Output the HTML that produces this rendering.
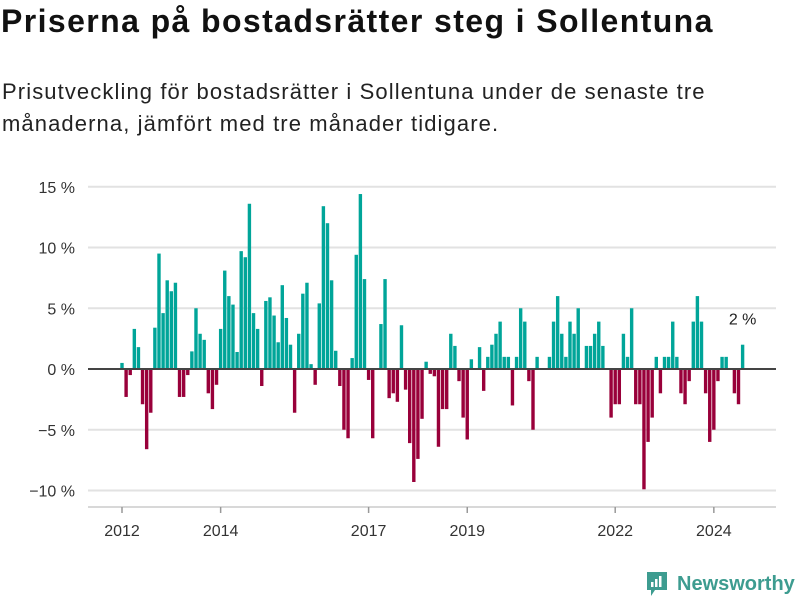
<!DOCTYPE html>
<html><head><meta charset="utf-8">
<style>
body{margin:0;background:#fff;width:800px;height:600px;overflow:hidden;font-family:"Liberation Sans",sans-serif;}
#title{position:absolute;left:1px;top:3px;font-size:32px;font-weight:bold;color:#111;margin:0;letter-spacing:1.4px;white-space:nowrap;}
#sub{position:absolute;left:2px;top:76px;font-size:22px;color:#222;line-height:32px;width:798px;letter-spacing:1.1px;white-space:nowrap;}
svg{position:absolute;left:0;top:0;}
</style></head><body>
<h1 id="title">Priserna på bostadsrätter steg i Sollentuna</h1>
<div id="sub">Prisutveckling för bostadsrätter i Sollentuna under de senaste tre<br>månaderna, jämfört med tre månader tidigare.</div>
<svg id="chart" width="800" height="600"></svg>
<script>
const values = [0.5,-2.3,-0.5,3.3,1.8,-2.9,-6.6,-3.6,3.4,9.5,4.6,7.3,6.4,7.1,-2.3,-2.3,-0.5,1.45,5.0,2.9,2.4,-2.0,-3.3,-1.3,
3.3,8.1,6.0,5.3,1.4,9.7,9.2,13.6,4.6,3.3,-1.4,5.6,5.9,4.4,2.2,6.9,4.2,2.0,-3.6,2.9,6.2,7.1,0.4,-1.3,
5.4,13.4,12.0,7.3,1.5,-1.4,-5.0,-5.7,0.9,9.4,14.4,7.4,-0.9,-5.7,0,3.7,7.4,-2.4,-2.0,-2.7,3.6,-1.7,-6.1,-9.3,
-7.4,-4.1,0.6,-0.4,-0.6,-6.4,-3.3,-3.3,2.9,1.9,-1.0,-4.0,-5.8,0.8,0,1.8,-1.8,1.0,2.0,2.9,3.9,1.0,1.0,-3.0,
1.0,5.0,3.9,-1.0,-5.0,1.0,0,0,1.0,3.9,6.0,2.9,1.0,3.9,2.9,5.0,0,1.9,1.9,2.9,3.9,1.9,0,-4.0,
-2.9,-2.9,2.9,1.0,5.0,-2.9,-2.9,-9.9,-6.0,-4.0,1.0,-2.0,1.0,1.0,3.9,1.0,-2.0,-2.9,-1.0,3.9,6.0,3.9,-2.0,-6.0,
-5.0,-1.0,1.0,1.0,0,-2.0,-2.9,2.0];
const yTicks = [15,10,5,0,-5,-10];
const yTickLabels = ["15 %","10 %","5 %","0 %","−5 %","−10 %"];
const xTickIndex = [0,24,60,84,120,144];
const xTickLabels = ["2012","2014","2017","2019","2022","2024"];
const lastLabel = "2 %";

const NS="http://www.w3.org/2000/svg";
const svg=document.getElementById('chart');
function y(v){return 369-v*12.15;}
function x(i){return 122+i*4.11;}
function mk(t,a,txt){const e=document.createElementNS(NS,t);for(const k in a)e.setAttribute(k,a[k]);if(txt!=null)e.textContent=txt;svg.appendChild(e);return e;}
yTicks.forEach((t,k)=>{
  if(t!==0){const g=mk('line',{x1:88,x2:776,y1:y(t),y2:y(t),stroke:'#e2e2e2','stroke-width':2});
  
  }
  const l=mk('text',{x:75,y:y(t)+6,'text-anchor':'end','font-size':16,fill:'#333','font-family':'Liberation Sans, sans-serif'},yTickLabels[k]);
  
  
});
const ax=mk('line',{x1:88,x2:776,y1:507,y2:507,stroke:'#ccc','stroke-width':1.5});


xTickIndex.forEach((i,k)=>{
  const t=mk('line',{x1:x(i),x2:x(i),y1:507,y2:513,stroke:'#999','stroke-width':1.5});
  
  
  const l=mk('text',{x:x(i),y:536,'text-anchor':'middle','font-size':16,fill:'#333','font-family':'Liberation Sans, sans-serif'},xTickLabels[k]);
  
  
});
values.forEach((v,i)=>{
  if(v===0)return;
  const top=Math.min(y(v),y(0)),h=Math.abs(y(v)-y(0));
  const r=mk('rect',{x:x(i)-1.7,y:top,width:3.4,height:h,fill:v>0?'#00a599':'#99003a'});
  
  
});
const z=mk('line',{x1:88,x2:776,y1:369,y2:369,stroke:'#444','stroke-width':2});


const n=values.length-1;
const a=mk('text',{x:x(n),y:y(values[n])-20,'text-anchor':'middle','font-size':16,fill:'#222','font-family':'Liberation Sans, sans-serif'},lastLabel);


</script>
<div style="position:absolute;left:645px;top:570px;display:flex;align-items:center;">
<svg width="24" height="28" viewBox="0 0 24 28" style="position:static"><path d="M2 2h20v18H10l-4 6v-6H2z" fill="#3d9c90"/><rect x="6" y="12" width="2.5" height="5" fill="#fff"/><rect x="10" y="9" width="2.5" height="8" fill="#fff"/><rect x="14" y="6" width="2.5" height="11" fill="#fff"/></svg>
<span style="margin-left:8px;font-size:20px;font-weight:bold;color:#3d9c90;">Newsworthy</span>
</div>
</body></html>
